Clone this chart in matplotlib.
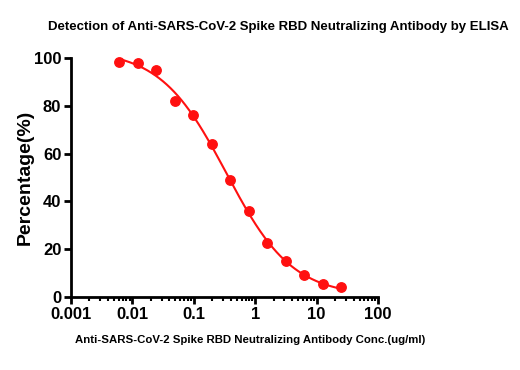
import numpy as np
import matplotlib
matplotlib.use("Agg")
import matplotlib.pyplot as plt
from matplotlib.ticker import LogLocator, FixedLocator, NullFormatter

conc = [0.0061, 0.0122, 0.0244, 0.0488, 0.0977, 0.195, 0.39, 0.78, 1.5625, 3.125, 6.25, 12.5, 25]
pct = [98.5, 98, 95, 82, 76, 64, 49, 36, 22.5, 15, 9, 5.5, 4]

x_ticks = [0.001, 0.01, 0.1, 1, 10, 100]
x_tick_labels = ["0.001", "0.01", "0.1", "1", "10", "100"]
y_ticks = [0, 20, 40, 60, 80, 100]

title = "Detection of Anti-SARS-CoV-2 Spike RBD Neutralizing Antibody by ELISA"
xlabel = "Anti-SARS-CoV-2 Spike RBD Neutralizing Antibody Conc.(ug/ml)"
ylabel = "Percentage(%)"

# 4PL fit (Levenberg-Marquardt in numpy)
lx = np.log10(np.array(conc))
yv = np.array(pct)

def f(p, x):
    bot, top, logc, h = p
    return bot + (top - bot) / (1 + 10 ** ((x - logc) * h))

p = np.array([2.0, 100.0, -0.4, 1.0])
lam = 1e-2
for _ in range(500):
    r = yv - f(p, lx)
    J = np.zeros((len(lx), 4))
    for i in range(4):
        dp = np.zeros(4); dp[i] = 1e-6
        J[:, i] = (f(p + dp, lx) - f(p - dp, lx)) / 2e-6
    A = J.T @ J
    step = np.linalg.solve(A + lam * np.diag(np.diag(A)), J.T @ r)
    pn = p + step
    if np.sum((yv - f(pn, lx)) ** 2) < np.sum(r ** 2):
        p = pn; lam *= 0.5
    else:
        lam *= 5

xf = np.linspace(lx.min(), lx.max(), 300)

plt.rcParams['font.family'] = ["Liberation Sans", "DejaVu Sans"]

fig = plt.figure(figsize=(5.2, 3.7), dpi=100)
ax = fig.add_axes([71/520, 1-297/370, (378-71)/520, (297-58)/370])
ax.plot(10 ** xf, f(p, xf), color="#ff1010", lw=1.5, zorder=2)
ax.plot(conc, pct, 'o', color="#ff1010", ms=6.8, zorder=3, clip_on=False)

ax.set_xscale("log")
ax.set_xlim(0.001, 100)
ax.set_ylim(0, 100)
ax.xaxis.set_major_locator(FixedLocator(x_ticks))
ax.set_xticklabels(x_tick_labels)
ax.xaxis.set_minor_locator(LogLocator(base=10, subs=np.arange(2, 10), numticks=20))
ax.xaxis.set_minor_formatter(NullFormatter())
ax.set_yticks(y_ticks)

for s in ["top", "right"]:
    ax.spines[s].set_visible(False)
for s in ["left", "bottom"]:
    ax.spines[s].set_linewidth(2)
ax.tick_params(axis="both", which="major", width=2, length=5, labelsize=12, pad=2)
ax.tick_params(axis="x", which="minor", width=1.5, length=3)
for lbl in ax.get_xticklabels() + ax.get_yticklabels():
    lbl.set_fontweight("bold")

ax.set_ylabel(ylabel, fontsize=14, fontweight="bold", labelpad=0)
xl = fig.text(250/520, 1-340/370, xlabel, fontsize=9.5, fontweight="bold", va="center", ha="center")
tt = fig.text(278/520, 1-27/370, title, fontsize=11.5, fontweight="bold", va="center", ha="center")

# fit text widths to the reference
fig.canvas.draw()
r = fig.canvas.get_renderer()
for t, w in [(xl, 350), (tt, 467)]:
    cur = t.get_window_extent(r).width
    t.set_fontsize(t.get_fontsize() * w / cur)

fig.savefig("out.png", dpi=100, facecolor="white")
